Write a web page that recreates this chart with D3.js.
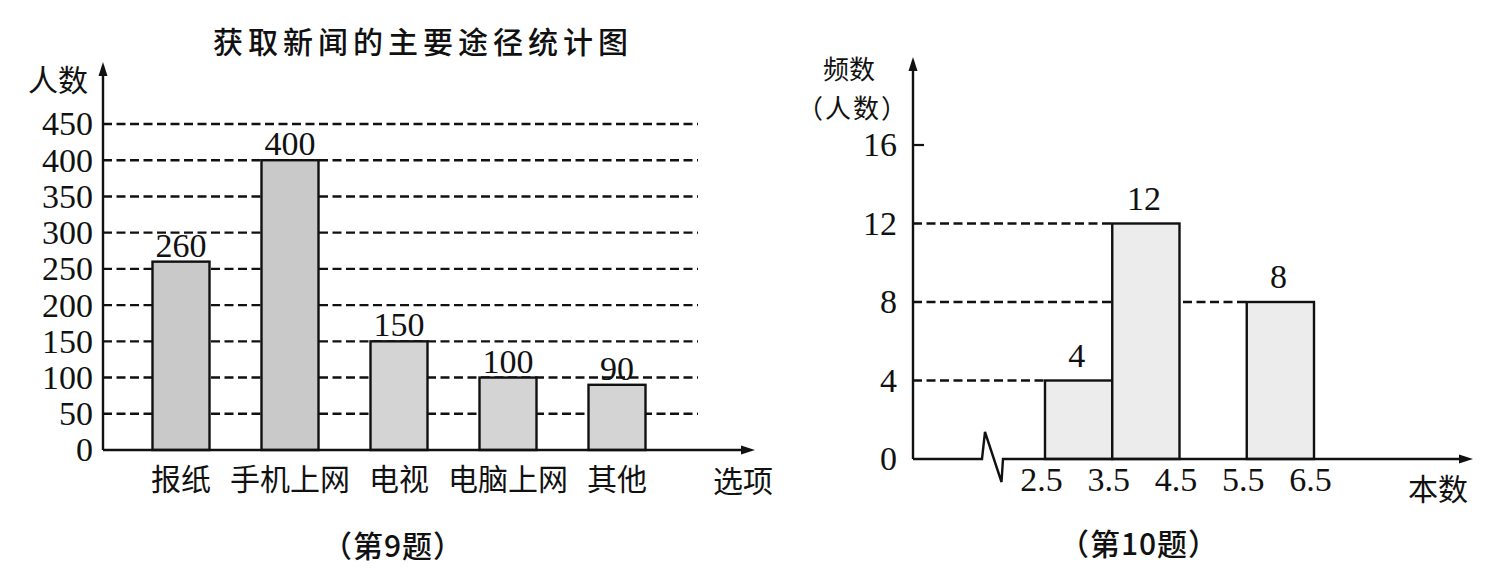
<!DOCTYPE html>
<html>
<head>
<meta charset="utf-8">
<script src="https://cdn.jsdelivr.net/npm/d3@7"></script>
<style>
   html, body { margin: 0; padding: 0; background: #fff; }
   svg { display: block; }
</style>
</head>
<body>
<div id="chart"></div>
<script>
// 第9题 data
const newsCategories = ['报纸', '手机上网', '电视', '电脑上网', '其他'];
const newsCounts = [260, 400, 150, 100, 90];
const newsTicks = [0, 50, 100, 150, 200, 250, 300, 350, 400, 450];

// 第10题 data (histogram bins edges + counts per bin)
const bookEdges = [2.5, 3.5, 4.5, 5.5, 6.5];
const bookCounts = [4, 12, 0, 8];
const bookTicks = [0, 4, 8, 12, 16];

const serif = '"Liberation Serif", "Times New Roman", serif';
const cjk = '"Noto Sans CJK SC", "Noto Sans", sans-serif';

const svg = d3
   .select('#chart')
   .append('svg')
   .attr('width', 1490)
   .attr('height', 569);

// little filled arrow head, dir = 'up' or 'right'
function arrow(g, x, y, dir) {
   const p = dir === 'up'
      ? [[x, y], [x - 4.5, y + 14], [x + 4.5, y + 14]]
      : [[x, y], [x - 14, y - 4.5], [x - 14, y + 4.5]];
   g.append('path').attr('d', d3.line()(p) + 'Z').attr('fill', '#111');
}

// plain centred label
function label(g, x, y, txt, size, extra) {
   const t = g.append('text')
      .attr('x', x).attr('y', y)
      .attr('text-anchor', 'middle')
      .attr('dominant-baseline', 'central')
      .style('font-family', cjk)
      .style('font-size', size + 'px')
      .attr('fill', '#111')
      .text(txt);
   if (extra) extra(t);
   return t;
}

// ---------------- chart 1 : bar chart ----------------
const g1 = svg.append('g');
const ax1 = 103;   // y axis x
const y1 = d3.scaleLinear().domain([0, 450]).range([450, 124]);
const x1 = d3
   .scaleBand()
   .domain(newsCategories)
   .range([126.5, 671.5])
   .paddingInner(0.477)
   .paddingOuter(0.2385);

//dashed grid behind the bars
g1.selectAll('line.grid')
   .data(newsTicks.filter((d) => d > 0))
   .join('line')
   .attr('class', 'grid')
   .attr('x1', ax1)
   .attr('x2', 698)
   .attr('y1', (d) => y1(d))
   .attr('y2', (d) => y1(d))
   .attr('stroke', '#111')
   .attr('stroke-width', 2.4)
   .attr('stroke-dasharray', '9 4.5');

g1.selectAll('rect.bar')
   .data(newsCounts)
   .join('rect')
   .attr('class', 'bar')
   .attr('x', (d, i) => x1(newsCategories[i]))
   .attr('y', (d) => y1(d))
   .attr('width', x1.bandwidth())
   .attr('height', (d) => y1(0) - y1(d))
   .attr('fill', (d, i) => (i < 2 ? '#c9c9c9' : '#d4d4d4'))
   .attr('stroke', '#111')
   .attr('stroke-width', 2.4);

g1.selectAll('text.val')
   .data(newsCounts)
   .join('text')
   .attr('class', 'val')
   .attr('x', (d, i) => x1(newsCategories[i]) + x1.bandwidth() / 2)
   .attr('y', (d) => y1(d) - 5)
   .attr('text-anchor', 'middle')
   .style('font-family', serif)
   .style('font-size', '34px')
   .attr('fill', '#111')
   .text((d) => d);

// y tick labels
const yAxis1 = g1
   .append('g')
   .attr('transform', `translate(${ax1},0)`)
   .call(d3.axisLeft(y1).tickValues(newsTicks).tickSize(0).tickPadding(10));
yAxis1.select('.domain').remove();
yAxis1.selectAll('text')
   .style('font-family', serif)
   .style('font-size', '34px')
   .attr('fill', '#111');

// category labels
const xAxis1 = g1
   .append('g')
   .attr('transform', 'translate(0,450)')
   .call(d3.axisBottom(x1).tickSize(0).tickPadding(19));
xAxis1.select('.domain').remove();
xAxis1.selectAll('text')
   .style('font-family', cjk)
   .style('font-size', '30px')
   .attr('fill', '#111');

// axis lines + arrows
g1.append('line')
   .attr('x1', ax1).attr('x2', ax1)
   .attr('y1', 450).attr('y2', 70)
   .attr('stroke', '#111').attr('stroke-width', 2.4);
arrow(g1, ax1, 62, 'up');
g1.append('line')
   .attr('x1', ax1).attr('x2', 746)
   .attr('y1', 450).attr('y2', 450)
   .attr('stroke', '#111').attr('stroke-width', 2.4);
arrow(g1, 755, 450, 'right');

label(g1, 423, 40, '获取新闻的主要途径统计图', 30, (t) =>
   t.style('font-weight', 500).style('letter-spacing', '5px'));
label(g1, 58, 78, '人数', 30);
label(g1, 743, 479, '选项', 30);
label(g1, 393, 544, '（第9题）', 30, (t) =>
   t.style('font-weight', 500).style('letter-spacing', '1px'));

// ---------------- chart 2 : histogram ----------------
const g2 = svg.append('g');
const ax2 = 913;
const y2 = d3.scaleLinear().domain([0, 16]).range([459, 145]);
const x2 = d3.scaleLinear().domain([2.5, 6.5]).range([1045, 1314]);

const bins = bookCounts.map((c, i) => ({ x0: bookEdges[i], x1: bookEdges[i + 1], count: c }));
const filled = bins.filter((d) => d.count > 0);

// dashed guide from y axis to left edge of each bar
g2.selectAll('line.guide')
   .data(filled)
   .join('line')
   .attr('class', 'guide')
   .attr('x1', ax2)
   .attr('x2', (d) => x2(d.x0))
   .attr('y1', (d) => y2(d.count))
   .attr('y2', (d) => y2(d.count))
   .attr('stroke', '#111')
   .attr('stroke-width', 2.4)
   .attr('stroke-dasharray', '9 4.5');

g2.selectAll('rect.bar')
   .data(filled)
   .join('rect')
   .attr('class', 'bar')
   .attr('x', (d) => x2(d.x0))
   .attr('y', (d) => y2(d.count))
   .attr('width', (d) => x2(d.x1) - x2(d.x0))
   .attr('height', (d) => y2(0) - y2(d.count))
   .attr('fill', '#ececec')
   .attr('stroke', '#111')
   .attr('stroke-width', 2.4);

g2.selectAll('text.val')
   .data(filled)
   .join('text')
   .attr('class', 'val')
   .attr('x', (d) => (x2(d.x0) + x2(d.x1)) / 2 - 2)
   .attr('y', (d) => y2(d.count) - 14)
   .attr('text-anchor', 'middle')
   .style('font-family', serif)
   .style('font-size', '34px')
   .attr('fill', '#111')
   .text((d) => d.count);

const yAxis2 = g2
   .append('g')
   .attr('transform', `translate(${ax2},0)`)
   .call(d3.axisLeft(y2).tickValues(bookTicks).tickSize(0).tickPadding(16));
yAxis2.select('.domain').remove();
yAxis2.selectAll('text')
   .style('font-family', serif)
   .style('font-size', '34px')
   .attr('fill', '#111');

// only the top tick gets a short mark
g2.append('line')
   .attr('x1', ax2).attr('x2', ax2 + 11)
   .attr('y1', y2(d3.max(bookTicks))).attr('y2', y2(d3.max(bookTicks)))
   .attr('stroke', '#111').attr('stroke-width', 2.2);

const xAxis2 = g2
   .append('g')
   .attr('transform', 'translate(-4,459)')
   .call(d3.axisBottom(x2).tickValues(bookEdges).tickSize(0).tickPadding(8).tickFormat(d3.format('.1f')));
xAxis2.select('.domain').remove();
xAxis2.selectAll('text')
   .style('font-family', serif)
   .style('font-size', '34px')
   .attr('fill', '#111');

// y axis + x axis with the break zigzag
g2.append('line')
   .attr('x1', ax2).attr('x2', ax2)
   .attr('y1', 459).attr('y2', 66)
   .attr('stroke', '#111').attr('stroke-width', 2.4);
arrow(g2, ax2, 57, 'up');
g2.append('path')
   .attr('d', `M${ax2},459 L982,459 L985,432 L1001.5,482 L1003,459 L1464,459`)
   .attr('fill', 'none')
   .attr('stroke', '#111')
   .attr('stroke-width', 2.4)
   .attr('stroke-linejoin', 'miter');
arrow(g2, 1473, 459, 'right');

label(g2, 849, 67, '频数', 26);
label(g2, 853, 106, '（人数）', 26, (t) => t.style('letter-spacing', '2px'));
label(g2, 1438, 487, '本数', 30);
label(g2, 1139, 542, '（第10题）', 30, (t) =>
   t.style('font-weight', 500).style('letter-spacing', '1px'));
</script>
</body>
</html>
